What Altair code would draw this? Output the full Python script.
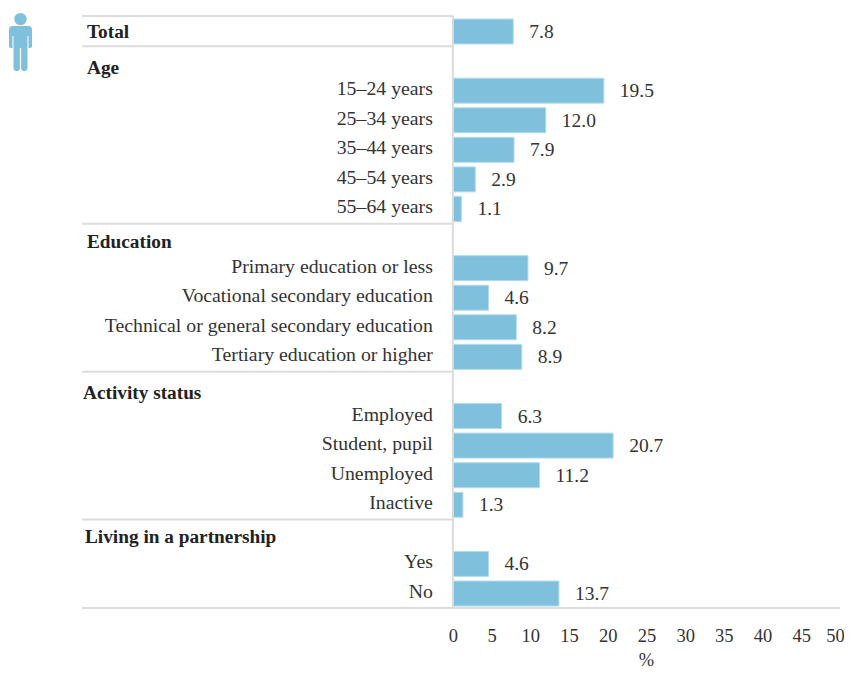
import altair as alt
import pandas as pd

FONT = "Liberation Serif"
BLUE = "#7fc1dc"
GREY = "#dcdcdc"
TEXT = "#333333"

total_label = "Total"
total_value = 7.8
age_labels = ["15–24 years", "25–34 years", "35–44 years", "45–54 years", "55–64 years"]
age_values = [19.5, 12.0, 7.9, 2.9, 1.1]
edu_labels = ["Primary education or less", "Vocational secondary education",
              "Technical or general secondary education", "Tertiary education or higher"]
edu_values = [9.7, 4.6, 8.2, 8.9]
act_labels = ["Employed", "Student, pupil", "Unemployed", "Inactive"]
act_values = [6.3, 20.7, 11.2, 1.3]
liv_labels = ["Yes", "No"]
liv_values = [4.6, 13.7]
x_ticks = list(range(0, 55, 5))

sections = [("Age", age_labels, age_values),
            ("Education", edu_labels, edu_values),
            ("Activity status", act_labels, act_values),
            ("Living in a partnership", liv_labels, liv_values)]

bars, headers = [{"row": 0, "label": total_label, "value": total_value}], [{"row": 0, "label": total_label}]
row = 1
for head, labs, vals in sections:
    headers.append({"row": row, "label": head})
    row += 1
    for l, v in zip(labs, vals):
        bars.append({"row": row, "label": l, "value": v})
        row += 1
bars = pd.DataFrame(bars)
headers = pd.DataFrame(headers)

XMIN, XMAX = -47.9, 50
YMIN, YMAX = -0.524, 19.49
xs = alt.Scale(domain=[XMIN, XMAX], nice=False, zero=False, padding=0)
ys = alt.Scale(domain=[YMIN, YMAX], reverse=True, nice=False, zero=False, padding=0)
Y = alt.Y("row:Q", scale=ys, axis=None)

separators = pd.DataFrame({"row": [YMIN] + [h - 0.5 for h in headers["row"][1:]], "a": XMIN, "b": 0})
bottom = pd.DataFrame({"row": [YMAX], "a": [XMIN], "b": [XMAX]})
rule_enc = dict(y=Y, x=alt.X("a:Q", scale=xs, axis=alt.Axis(
    values=x_ticks, title="%", grid=False, domain=False, ticks=False, labelFont=FONT, labelFontSize=18.5,
    labelColor=TEXT, labelPadding=18, labelFlush=False, labelBound=False, labelOverlap=False,
    labelOffset={"condition": {"test": "datum.value == 50", "value": -5}, "value": 0},
    titleFont=FONT, titleFontSize=18.5, titleColor=TEXT,
    titleFontWeight="normal", titleX=564, titleY=57, titleBaseline="alphabetic")), x2="b:Q")

seps = alt.Chart(separators).mark_rule(color=GREY, strokeWidth=2).encode(**rule_enc)
bot = alt.Chart(bottom).mark_rule(color=GREY, strokeWidth=2).encode(**rule_enc)
vert = alt.Chart(pd.DataFrame({"zero": [0]})).mark_rule(color=GREY, strokeWidth=2).encode(
    x=alt.X("zero:Q", scale=xs), y=alt.value(0), y2=alt.value(592))

bar = alt.Chart(bars).mark_bar(height=25, color=BLUE, stroke="#b5dcec", strokeWidth=1).encode(
    x=alt.X("value:Q", scale=xs), x2=alt.datum(0), y=Y)

val_text = alt.Chart(bars).mark_text(align="left", dx=16, dy=0.5, font=FONT, fontSize=19.5, color=TEXT).encode(
    x=alt.X("value:Q", scale=xs), y=Y, text=alt.Text("value:Q", format=".1f"))

lab_text = alt.Chart(bars[bars["row"] > 0]).mark_text(align="right", dx=-20, dy=-1.5, font=FONT, fontSize=19.8, color=TEXT).encode(
    x=alt.datum(0, scale=xs), y=Y, text="label:N")

head_offsets = {"Total": (5, 0.5), "Age": (5, 6.9), "Education": (5, 3.4),
                "Activity status": (1, 6.5), "Living in a partnership": (3, 2.6)}
head_layers = []
for name, (dx, dy) in head_offsets.items():
    head_layers.append(
        alt.Chart(headers[headers["label"] == name]).mark_text(
            align="left", dx=dx, dy=dy, font=FONT, fontSize=19.3, fontWeight="bold", color="#222222"
        ).encode(x=alt.value(0), y=Y, text="label:N"))

def pt(x, y):
    return f"{x/29:.3f},{y/29:.3f}"
r = 6.2 / 29
icon_path = (
    f"M{-r:.3f},-0.79 A{r:.3f},{r:.3f} 0 1,1 {r:.3f},-0.79 A{r:.3f},{r:.3f} 0 1,1 {-r:.3f},-0.79 Z "
    f"M{pt(-8,-16)} L{pt(8,-16)} Q{pt(11.5,-16)} {pt(11.5,-12)} L{pt(11.5,4)} Q{pt(11.5,6)} {pt(9.5,6)} "
    f"L{pt(8,6)} L{pt(8,-6)} L{pt(7,-6)} L{pt(7,26.5)} Q{pt(7,29)} {pt(4.5,29)} L{pt(3,29)} Q{pt(0.6,29)} {pt(0.6,26.5)} "
    f"L{pt(0.6,6)} L{pt(-0.6,6)} L{pt(-0.6,26.5)} Q{pt(-0.6,29)} {pt(-3,29)} L{pt(-4.5,29)} Q{pt(-7,29)} {pt(-7,26.5)} "
    f"L{pt(-7,-6)} L{pt(-8,-6)} L{pt(-8,6)} L{pt(-9.5,6)} Q{pt(-11.5,6)} {pt(-11.5,4)} L{pt(-11.5,-12)} Q{pt(-11.5,-16)} {pt(-8,-16)} Z"
)
icon = alt.Chart(pd.DataFrame({"icon": ["person"]})).mark_point(
    shape=icon_path, filled=True, fill=BLUE, stroke=None, opacity=1, size=58 ** 2
).encode(x=alt.value(-61.5), y=alt.value(26))

chart = alt.layer(seps, bot, bar, vert, val_text, lab_text, *head_layers, icon).properties(
    width=758, height=592,
    autosize=alt.AutoSizeParams(type="none"),
    padding={"left": 74, "top": 8, "right": 4, "bottom": 62},
).configure_view(stroke=None)

chart.save("out.html", embed_options={"renderer": "svg", "actions": False})
